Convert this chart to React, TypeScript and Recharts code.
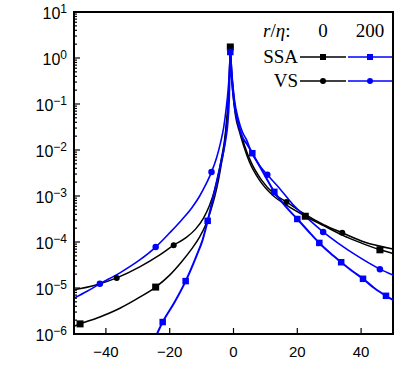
import React from "react";
import { LineChart, Line, XAxis, YAxis, ReferenceArea } from "recharts";

// ---- data (x, log10 of y) ----
const ssa0X = [-50, -48.1, -41.9, -35.6, -29.4, -24.4, -20, -16.25, -13.1, -10.6, -8.75, -7.2, -5.9, -4.7, -3.75, -2.8, -2.2, -1.55, -1.25, -1, -0.8, -0.15, 0.6, 1.9, 3.1, 5, 8.1, 12.2, 16.6, 22.5, 28.4, 34.1, 40, 45.9, 50];
const ssa0E = [-5.83, -5.78, -5.63, -5.44, -5.2, -4.98, -4.72, -4.43, -4.15, -3.89, -3.63, -3.33, -3.02, -2.65, -2.28, -1.89, -1.46, -0.91, -0.37, 0.24, -0.15, -0.8, -1.24, -1.61, -1.89, -2.26, -2.65, -2.98, -3.2, -3.44, -3.65, -3.85, -4.02, -4.17, -4.25];
const ssa0Marks = [-48.1, -24.4, -1, 22.5, 45.9];

const vs0X = [-50, -43.4, -36.6, -29.4, -23.1, -18.75, -15, -11.9, -9.4, -7.5, -5.9, -4.7, -3.75, -2.8, -2.2, -1.65, -1.28, -1, -0.8, 0, 0.9, 2.2, 3.4, 5.6, 8.75, 12.8, 16.6, 22.2, 28.4, 34.1, 41, 50];
const vs0E = [-5.04, -4.94, -4.78, -4.54, -4.28, -4.07, -3.91, -3.72, -3.48, -3.2, -2.87, -2.52, -2.17, -1.78, -1.39, -0.91, -0.37, 0.24, -0.04, -0.8, -1.24, -1.61, -1.89, -2.28, -2.65, -2.96, -3.13, -3.39, -3.63, -3.8, -4.0, -4.15];
const vs0Marks = [-36.6, -18.75, -1, 16.6, 34.1];

const vs200X = [-50, -45.9, -41.9, -35.6, -29.4, -24.4, -20, -16.25, -13.1, -10.6, -8.75, -6.9, -5.3, -4.1, -3.1, -2.35, -1.7, -1.25, -1, -0.6, 0.3, 1.6, 2.8, 4.1, 5.6, 8.1, 10.6, 14.4, 19.1, 23.75, 28.1, 33.1, 39.4, 45.9, 50];
const vs200E = [-5.22, -5.07, -4.91, -4.67, -4.39, -4.11, -3.8, -3.52, -3.26, -3.0, -2.76, -2.48, -2.17, -1.85, -1.52, -1.13, -0.7, -0.26, 0.17, -0.26, -0.91, -1.35, -1.61, -1.78, -2.04, -2.33, -2.54, -2.83, -3.22, -3.52, -3.78, -4.04, -4.33, -4.59, -4.72];
const vs200Marks = [-41.9, -24.4, -6.9, 10.6, 28.1, 45.9];

const ssa200X = [-24, -22.2, -18.4, -15, -11.6, -9.7, -8.1, -6.6, -5, -3.75, -2.5, -1.9, -1.4, -1, -0.6, 0.3, 1.6, 2.8, 4.4, 5.9, 9.4, 12.8, 16.25, 20, 23.4, 26.9, 30.3, 33.75, 37.2, 40.6, 44.1, 47.8, 50];
const ssa200E = [-6.0, -5.74, -5.3, -4.85, -4.3, -3.96, -3.54, -3.09, -2.61, -2.22, -1.78, -1.46, -0.91, 0.13, -0.37, -1.02, -1.46, -1.72, -1.89, -2.07, -2.5, -2.91, -3.22, -3.5, -3.76, -4.02, -4.24, -4.44, -4.63, -4.8, -5.0, -5.17, -5.26];
const ssa200Marks = [-22.2, -15, -8.1, -1, 5.9, 12.8, 20, 26.9, 33.75, 40.6, 47.8];

const xTicks = [-40, -20, 0, 20, 40];
const yMajor = [-6, -5, -4, -3, -2, -1, 0, 1];

const BLUE = "#0000ff";
const TICK_MARGIN = 8;

const build = (xs: number[], es: number[]) => xs.map((x, i) => ({ x, y: Math.pow(10, es[i]) }));

const yTicks: number[] = [];
yMajor.forEach((e) => {
  yTicks.push(Math.pow(10, e));
  if (e < 1) for (let m = 2; m <= 9; m++) yTicks.push(m * Math.pow(10, e));
});

const YTick = (props: any) => {
  const { x, y, payload } = props;
  const v = payload.value;
  const lg = Math.log10(v);
  const e = Math.round(lg);
  const major = Math.abs(lg - e) < 1e-6;
  const ax = x + TICK_MARGIN;
  return (
    <g>
      <line x1={ax} x2={ax + (major ? 6 : 3)} y1={y} y2={y} stroke="#000" strokeWidth={1.2} />
      {major && (
        <text x={ax - 7} y={y + 7} textAnchor="end" fill="#000" fontFamily="Liberation Sans, Arial, sans-serif">
          <tspan fontSize={16}>10</tspan>
          <tspan fontSize={12} dy={-6}>{e < 0 ? `\u2212${-e}` : `${e}`}</tspan>
        </text>
      )}
    </g>
  );
};

const XTick = (props: any) => {
  const { x, y, payload } = props;
  const ay = y - TICK_MARGIN;
  const v = payload.value;
  return (
    <g>
      <line x1={x} x2={x} y1={ay} y2={ay - 6} stroke="#000" strokeWidth={1.2} />
      <text x={x} y={ay + 23} textAnchor="middle" fill="#000" fontSize={15} fontFamily="Liberation Sans, Arial, sans-serif">
        {v < 0 ? `\u2212${-v}` : `${v}`}
      </text>
    </g>
  );
};

const makeDot = (marks: number[], shape: "square" | "circle", color: string, size: number) => (props: any) => {
  const { cx, cy, payload, index } = props;
  if (!marks.includes(payload.x) || cx == null || cy == null) return <g key={`d${index}`} />;
  if (shape === "square")
    return <rect key={`d${index}`} x={cx - size / 2} y={cy - size / 2} width={size} height={size} fill={color} />;
  return <circle key={`d${index}`} cx={cx} cy={cy} r={size / 2} fill={color} />;
};

const Legend = () => {
  const serif = "Liberation Serif, Times New Roman, serif";
  return (
    <svg width={413} height={390} style={{ position: "absolute", left: 0, top: 0, pointerEvents: "none" }}>
      <text x={263} y={37} fontSize={19} fontFamily={serif} fill="#000">
        <tspan fontStyle="italic">r</tspan>/<tspan fontStyle="italic">η</tspan>:
      </text>
      <text x={323} y={37} fontSize={19} fontFamily={serif} textAnchor="middle" fill="#000">0</text>
      <text x={370} y={37} fontSize={19} fontFamily={serif} textAnchor="middle" fill="#000">200</text>
      <text x={298} y={63} fontSize={19} fontFamily={serif} textAnchor="end" fill="#000">SSA</text>
      <text x={298} y={87} fontSize={19} fontFamily={serif} textAnchor="end" fill="#000">VS</text>
      <line x1={300} x2={346} y1={57} y2={57} stroke="#000" strokeWidth={1.5} />
      <rect x={320} y={54} width={6} height={6} fill="#000" />
      <line x1={348} x2={392} y1={57} y2={57} stroke={BLUE} strokeWidth={1.5} />
      <rect x={367} y={54} width={6} height={6} fill={BLUE} />
      <line x1={300} x2={346} y1={81} y2={81} stroke="#000" strokeWidth={1.5} />
      <circle cx={323} cy={81} r={3} fill="#000" />
      <line x1={348} x2={392} y1={81} y2={81} stroke={BLUE} strokeWidth={1.5} />
      <circle cx={370} cy={81} r={3} fill={BLUE} />
    </svg>
  );
};

export default function App() {
  return (
    <div style={{ position: "absolute", left: 0, top: 0, width: 413, height: 390, background: "#fff" }}>
      <LineChart width={413} height={390} margin={{ top: 12, right: 20, bottom: 26, left: 0 }}>
        <XAxis
          type="number"
          dataKey="x"
          domain={[-50, 50]}
          ticks={xTicks}
          allowDataOverflow
          interval={0}
          tickSize={0}
          tickMargin={TICK_MARGIN}
          tickLine={false}
          axisLine={{ stroke: "#000", strokeWidth: 2 }}
          height={30}
          tick={<XTick />}
        />
        <YAxis
          type="number"
          dataKey="y"
          scale="log"
          domain={[1e-6, 10]}
          ticks={yTicks}
          allowDataOverflow
          interval={0}
          tickSize={0}
          tickMargin={TICK_MARGIN}
          tickLine={false}
          axisLine={{ stroke: "#000", strokeWidth: 2 }}
          width={74}
          tick={<YTick />}
        />
        <ReferenceArea x1={-50} x2={50} y1={1e-6} y2={10} fill="none" stroke="#000" strokeWidth={2} ifOverflow="visible" />
        <Line data={build(ssa0X, ssa0E)} dataKey="y" type="monotone" stroke="#000" strokeWidth={1.5}
          dot={makeDot(ssa0Marks, "square", "#000", 7)} isAnimationActive={false} />
        <Line data={build(vs0X, vs0E)} dataKey="y" type="monotone" stroke="#000" strokeWidth={1.5}
          dot={makeDot(vs0Marks, "circle", "#000", 6)} isAnimationActive={false} />
        <Line data={build(vs200X, vs200E)} dataKey="y" type="monotone" stroke={BLUE} strokeWidth={1.6}
          dot={makeDot(vs200Marks, "circle", BLUE, 6.5)} isAnimationActive={false} />
        <Line data={build(ssa200X, ssa200E)} dataKey="y" type="monotone" stroke={BLUE} strokeWidth={2}
          dot={makeDot(ssa200Marks, "square", BLUE, 6.5)} isAnimationActive={false} />
      </LineChart>
      <Legend />
    </div>
  );
}
